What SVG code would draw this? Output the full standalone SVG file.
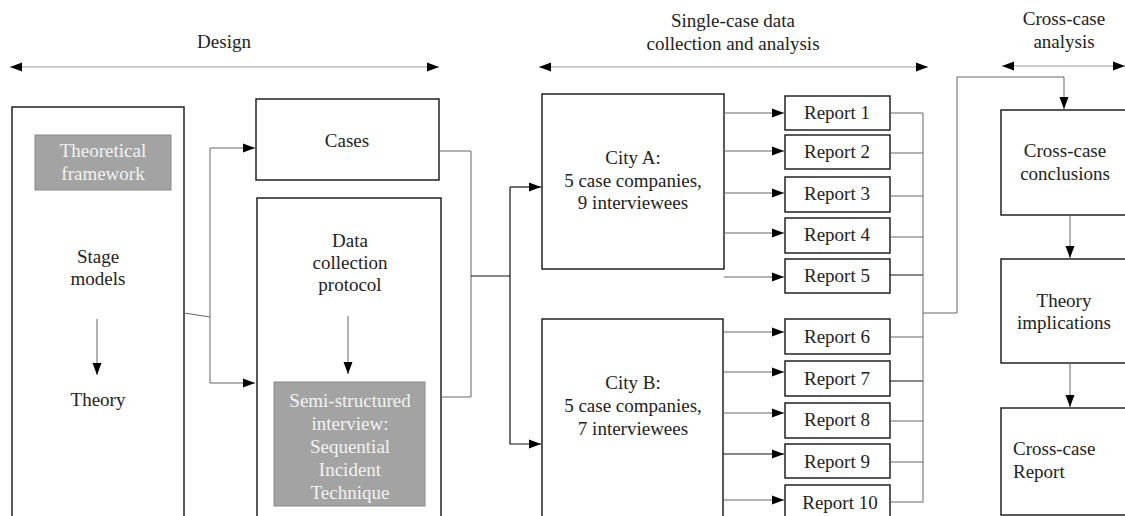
<svg xmlns="http://www.w3.org/2000/svg" width="1125" height="516" viewBox="0 0 1125 516">
<style>
text{font-family:"Liberation Serif","Times New Roman",Tinos,"Noto Serif","DejaVu Serif",FreeSerif,serif;font-size:19px;fill:#222;text-anchor:middle}
.box{fill:#fff;stroke:#222;stroke-width:1.5}
.gray{fill:#a3a3a3;stroke:#8a8a8a;stroke-width:1}
.wt{fill:#f2f2f2}
.ln{fill:none;stroke:#666;stroke-width:1}
.dk{fill:none;stroke:#111;stroke-width:1.2}
.hd{fill:none;stroke:#999;stroke-width:1.2}
</style>
<defs>
<marker id="ah" markerUnits="userSpaceOnUse" markerWidth="12" markerHeight="12" viewBox="0 0 12 12" refX="12" refY="6" orient="auto">
<path d="M0,1.5 L12,6 L0,10.5 Z" fill="#000"/>
</marker>
<marker id="as" markerUnits="userSpaceOnUse" markerWidth="12" markerHeight="12" viewBox="0 0 12 12" refX="0" refY="6" orient="auto">
<path d="M12,1.5 L0,6 L12,10.5 Z" fill="#000"/>
</marker>
</defs>

<g id="headers">
<text x="224" y="48">Design</text>
<line class="hd" x1="10" y1="67" x2="439" y2="67" marker-start="url(#as)" marker-end="url(#ah)"/>
<text x="733" y="27">Single-case data</text>
<text x="733" y="50">collection and analysis</text>
<line class="hd" x1="539" y1="67" x2="928" y2="67" marker-start="url(#as)" marker-end="url(#ah)"/>
<text x="1064" y="25">Cross-case</text>
<text x="1064" y="48">analysis</text>
<line class="hd" x1="1002" y1="66" x2="1125" y2="66" marker-start="url(#as)" marker-end="url(#ah)"/>
</g>

<g id="stage-models">
<rect class="box" x="12" y="107" width="172" height="420"/>
<rect class="gray" x="35" y="135" width="136" height="55"/>
<text class="wt" x="103" y="157">Theoretical</text>
<text class="wt" x="103" y="180">framework</text>
<text x="98" y="263">Stage</text>
<text x="98" y="285">models</text>
<line class="ln" x1="97" y1="319" x2="97" y2="375" marker-end="url(#ah)"/>
<text x="98" y="406">Theory</text>
</g>

<g id="cases">
<rect class="box" x="256" y="99" width="183" height="81"/>
<text x="347" y="147">Cases</text>
</g>

<g id="data-collection">
<rect class="box" x="257" y="198" width="184" height="330"/>
<text x="350" y="247">Data</text>
<text x="350" y="269">collection</text>
<text x="350" y="291">protocol</text>
<line class="ln" x1="348" y1="316" x2="348" y2="374" marker-end="url(#ah)"/>
<rect class="gray" x="274" y="382" width="151" height="124"/>
<text class="wt" x="350" y="407">Semi-structured</text>
<text class="wt" x="350" y="430">interview:</text>
<text class="wt" x="350" y="453">Sequential</text>
<text class="wt" x="350" y="476">Incident</text>
<text class="wt" x="350" y="499">Technique</text>
</g>

<g id="city-a">
<rect class="box" x="542" y="94" width="182" height="175"/>
<text x="633" y="164">City A:</text>
<text x="633" y="187">5 case companies,</text>
<text x="633" y="209">9 interviewees</text>
</g>

<g id="city-b">
<rect class="box" x="542" y="319" width="181" height="210"/>
<text x="633" y="389">City B:</text>
<text x="633" y="412">5 case companies,</text>
<text x="633" y="435">7 interviewees</text>
</g>

<g id="reports">
<rect class="box" x="785" y="96" width="105" height="34"/><text x="837" y="119">Report 1</text>
<rect class="box" x="785" y="135" width="105" height="34"/><text x="837" y="158">Report 2</text>
<rect class="box" x="785" y="177" width="105" height="35"/><text x="837" y="200">Report 3</text>
<rect class="box" x="785" y="218" width="105" height="35"/><text x="837" y="241">Report 4</text>
<rect class="box" x="785" y="259" width="105" height="34"/><text x="837" y="282">Report 5</text>
<rect class="box" x="785" y="319" width="105" height="35"/><text x="837" y="343">Report 6</text>
<rect class="box" x="785" y="361" width="105" height="35"/><text x="837" y="385">Report 7</text>
<rect class="box" x="785" y="403" width="105" height="35"/><text x="837" y="426">Report 8</text>
<rect class="box" x="785" y="444" width="105" height="34"/><text x="837" y="468">Report 9</text>
<rect class="box" x="785" y="485" width="105" height="40"/><text x="840" y="509">Report 10</text>
</g>

<g id="cross-case-conclusions">
<rect class="box" x="1001" y="110" width="130" height="105"/>
<text x="1065" y="157">Cross-case</text>
<text x="1065" y="180">conclusions</text>
</g>

<g id="theory-implications">
<rect class="box" x="1001" y="259" width="130" height="104"/>
<text x="1064" y="307">Theory</text>
<text x="1064" y="329">implications</text>
</g>

<g id="cross-case-report">
<rect class="box" x="1001" y="408" width="130" height="107"/>
<text x="1013" y="455" style="text-anchor:start">Cross-case</text>
<text x="1013" y="478" style="text-anchor:start">Report</text>
</g>

<g id="connectors">
<polyline class="ln" points="184,313 210,317"/>
<polyline class="ln" points="210,148 210,383 255,383" marker-end="url(#ah)"/>
<line class="ln" x1="210" y1="148" x2="255" y2="148" marker-end="url(#ah)"/>
<polyline class="ln" points="440,151 471,151 471,397 441,397"/>
<line class="dk" x1="471" y1="276" x2="510" y2="276"/>
<polyline class="dk" points="510,187 510,444 541,444" marker-end="url(#ah)"/>
<line class="dk" x1="510" y1="187" x2="541" y2="187" marker-end="url(#ah)"/>
<line class="ln" x1="724" y1="113" x2="784" y2="113" marker-end="url(#ah)"/>
<line class="ln" x1="724" y1="151" x2="784" y2="151" marker-end="url(#ah)"/>
<line class="ln" x1="724" y1="193" x2="784" y2="193" marker-end="url(#ah)"/>
<line class="ln" x1="724" y1="233" x2="784" y2="233" marker-end="url(#ah)"/>
<line class="ln" x1="724" y1="277" x2="784" y2="277" marker-end="url(#ah)"/>
<line class="ln" x1="723" y1="332" x2="784" y2="332" marker-end="url(#ah)"/>
<line class="ln" x1="723" y1="372" x2="784" y2="372" marker-end="url(#ah)"/>
<line class="ln" x1="723" y1="413" x2="784" y2="413" marker-end="url(#ah)"/>
<line class="dk" x1="723" y1="454" x2="784" y2="454" marker-end="url(#ah)"/>
<line class="ln" x1="723" y1="500" x2="784" y2="500" marker-end="url(#ah)"/>
<line class="ln" x1="890" y1="113" x2="923" y2="113"/>
<line class="ln" x1="890" y1="153" x2="923" y2="153"/>
<line class="ln" x1="890" y1="196" x2="923" y2="196"/>
<line class="ln" x1="890" y1="237" x2="923" y2="237"/>
<line class="dk" x1="890" y1="275" x2="923" y2="275"/>
<line class="ln" x1="890" y1="337" x2="923" y2="337"/>
<line class="dk" x1="890" y1="381" x2="923" y2="381"/>
<line class="ln" x1="890" y1="421" x2="923" y2="421"/>
<line class="ln" x1="890" y1="462" x2="923" y2="462"/>
<line class="ln" x1="890" y1="502" x2="923" y2="502"/>
<line class="ln" x1="923" y1="113" x2="923" y2="502"/>
<polyline class="ln" points="923,313 957,313 957,77 1064,77 1064,109" marker-end="url(#ah)"/>
<line class="ln" x1="1070" y1="215" x2="1070" y2="258" marker-end="url(#ah)"/>
<line class="ln" x1="1070" y1="363" x2="1070" y2="407" marker-end="url(#ah)"/>
</g>
</svg>
